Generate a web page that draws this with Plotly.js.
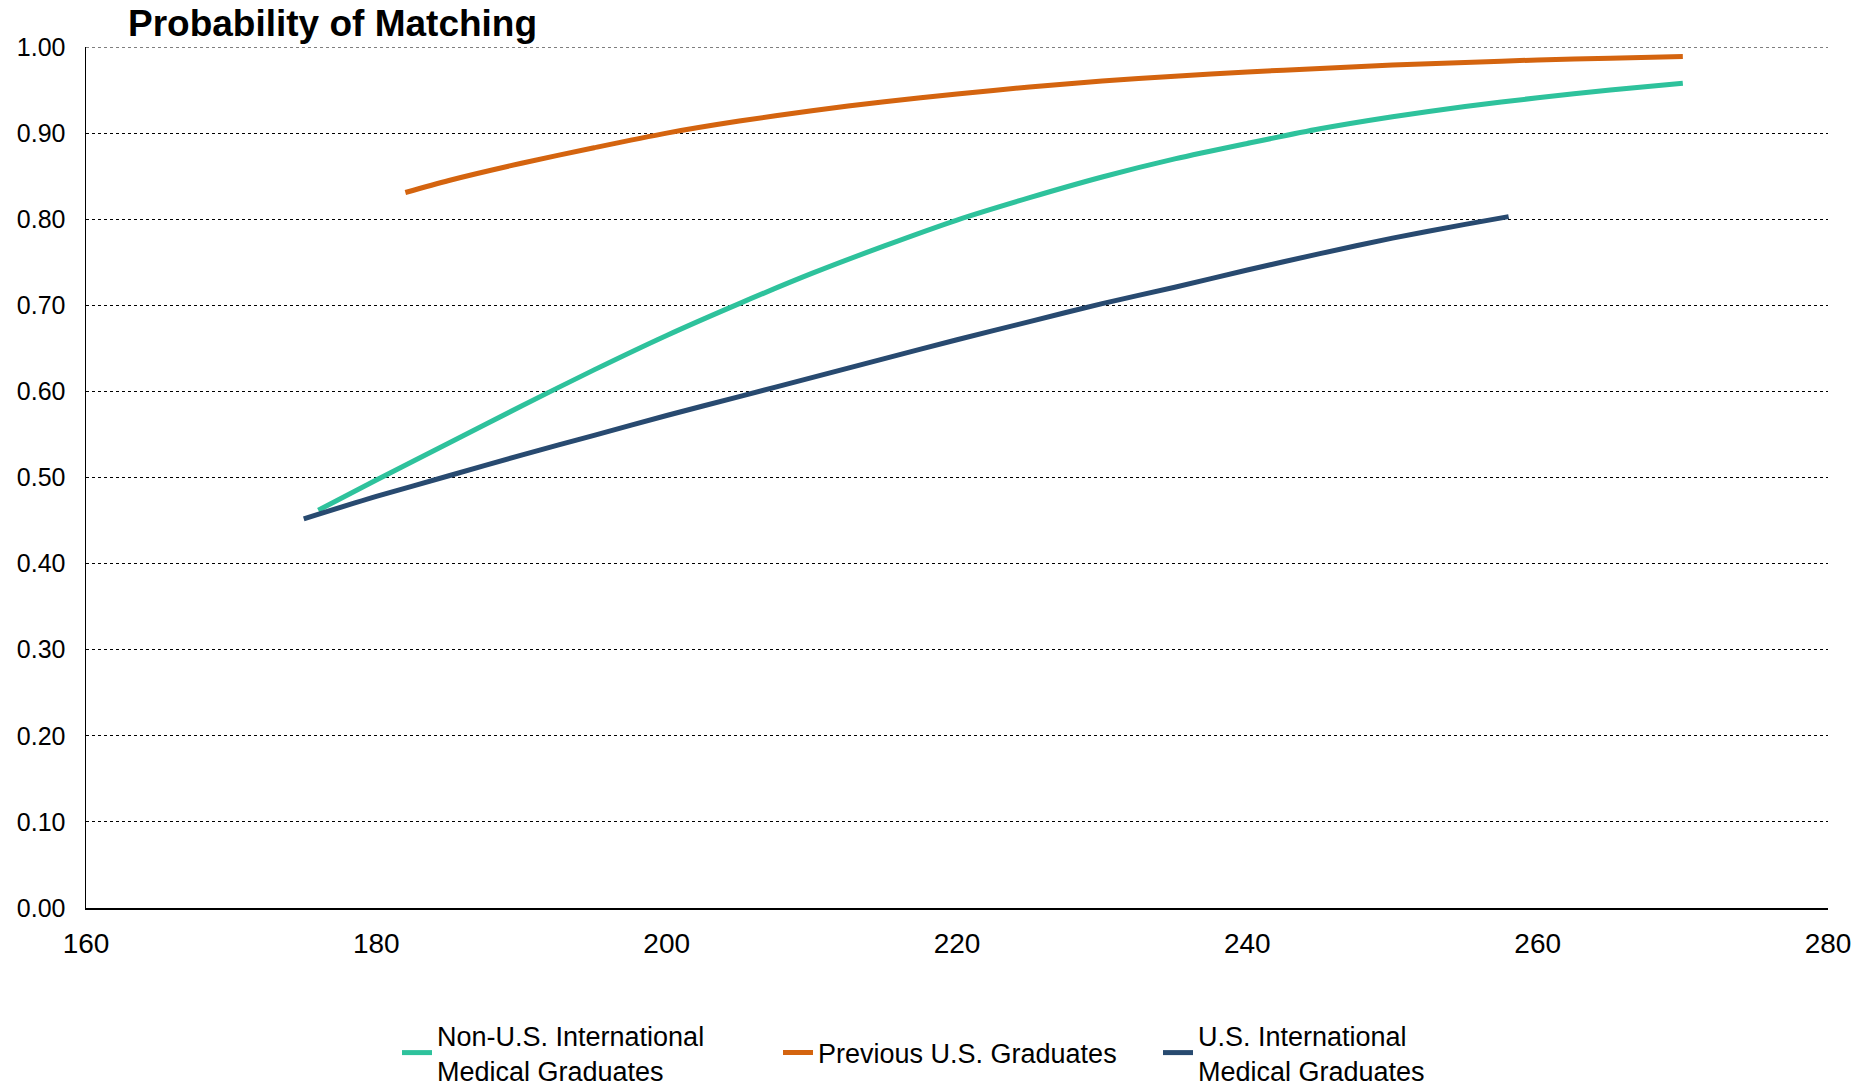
<!DOCTYPE html>
<html>
<head>
<meta charset="utf-8">
<script src="https://cdn.plot.ly/plotly-3.0.1.min.js"></script>
<style>html,body{margin:0;padding:0;background:#fff}#chart{width:1874px;height:1086px}</style>
</head>
<body>
<div id="chart"></div>
<script>
// Step 1 scores (x) and probability of matching (y)
const nonUsImgX = [176,180,185,190,195,200,205,210,215,220,225,230,235,240,245,250,255,260,265,270];
const nonUsImgY = [0.462,0.497,0.540,0.583,0.625,0.665,0.702,0.737,0.769,0.799,0.825,0.849,0.870,0.888,0.905,0.919,0.931,0.941,0.950,0.958];

const prevUsX = [182,185,190,195,200,205,210,215,220,225,230,235,240,245,250,255,260,265,270];
const prevUsY = [0.831,0.845,0.865,0.883,0.900,0.914,0.926,0.9365,0.9455,0.9535,0.9605,0.966,0.971,0.975,0.979,0.982,0.985,0.987,0.989];

const usImgX = [175,180,185,190,195,200,205,210,215,220,225,230,235,240,245,250,255,258];
const usImgY = [0.452,0.478,0.502,0.526,0.549,0.572,0.594,0.616,0.638,0.660,0.681,0.702,0.721,0.741,0.760,0.778,0.794,0.803];

const seriesNames = ['Non-U.S. International<br>Medical Graduates', 'Previous U.S. Graduates', 'U.S. International<br>Medical Graduates'];
const seriesColors = ['#2EC29C', '#D4640F', '#284A70'];

const xTicks = [160,180,200,220,240,260,280];
const yTicks = [0,0.1,0.2,0.3,0.4,0.5,0.6,0.7,0.8,0.9,1.0];

const font = 'Liberation Sans, Arial, sans-serif';
const xs = [nonUsImgX, prevUsX, usImgX];
const ys = [nonUsImgY, prevUsY, usImgY];
const legendIds = ['legend', 'legend2', 'legend3'];
const legendLeft = [397, 778, 1158];

const traces = xs.map((x, i) => ({
  type: 'scatter', mode: 'lines', x: x, y: ys[i], name: seriesNames[i],
  legend: legendIds[i],
  line: {color: seriesColors[i], width: 5, shape: 'spline', smoothing: 0.8},
  hoverinfo: 'x+y'
}));

function legendBox(i) {
  return {
    xref: 'container', yref: 'container',
    x: legendLeft[i]/1874, xanchor: 'left', y: 1 - 1053/1086, yanchor: 'middle',
    valign: 'middle', orientation: 'h',
    font: {family: font, size: 27, color: '#000'},
    bgcolor: 'rgba(0,0,0,0)', borderwidth: 0
  };
}

const layout = {
  width: 1874, height: 1086,
  paper_bgcolor: '#fff', plot_bgcolor: '#fff',
  margin: {l: 86, r: 46, t: 47, b: 178},
  font: {family: font, color: '#000'},
  title: {text: '<b>Probability of Matching</b>', font: {family: font, size: 37, color: '#000'},
          x: 128/1874, xanchor: 'left', xref: 'container', y: 1 - 23/1086, yanchor: 'middle', yref: 'container'},
  xaxis: {
    range: [160, 280], tickvals: xTicks, ticktext: xTicks.map(String),
    showgrid: false, zeroline: false, showline: true, linecolor: '#000', linewidth: 1.5,
    ticks: '', ticklabelstandoff: 10, tickfont: {family: font, size: 28, color: '#000'},
    automargin: false
  },
  yaxis: {
    range: [0, 1.0], tickvals: yTicks, ticktext: yTicks.map(v => v.toFixed(2)),
    showgrid: true, gridcolor: '#000', gridwidth: 1, griddash: 'dot',
    zeroline: false, showline: true, linecolor: '#000', linewidth: 1.5,
    ticks: '', ticklabelstandoff: 14, tickfont: {family: font, size: 25, color: '#000'},
    automargin: false
  },
  shapes: [{
    type: 'line', xref: 'paper', yref: 'y', x0: 0, x1: 1,
    y0: yTicks[yTicks.length - 1], y1: yTicks[yTicks.length - 1],
    line: {color: '#000', width: 1, dash: 'dot'}, layer: 'below'
  }],
  showlegend: true,
  legend: legendBox(0),
  legend2: legendBox(1),
  legend3: legendBox(2)
};

Plotly.newPlot('chart', traces, layout, {displayModeBar: false, staticPlot: true});
</script>
</body>
</html>
